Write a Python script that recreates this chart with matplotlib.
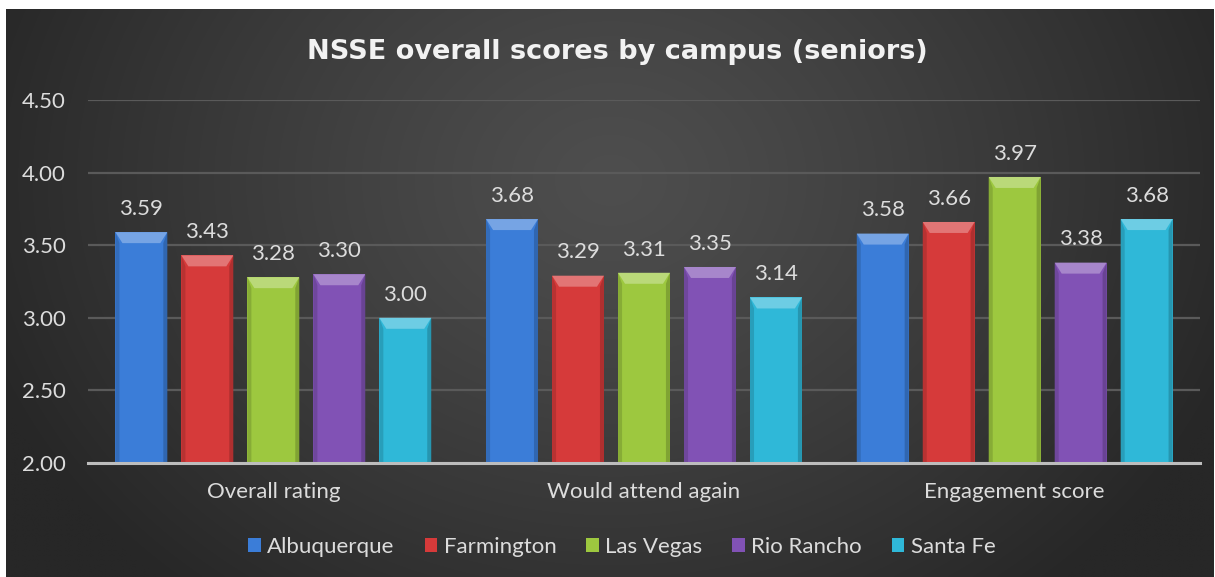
import numpy as np
import matplotlib
matplotlib.use("Agg")
import matplotlib.pyplot as plt
from matplotlib.patches import Polygon
import matplotlib.colors as mcolors

categories = ["Overall rating", "Would attend again", "Engagement score"]
campuses = ["Albuquerque", "Farmington", "Las Vegas", "Rio Rancho", "Santa Fe"]
albuquerque = [3.59, 3.68, 3.58]
farmington = [3.43, 3.29, 3.66]
las_vegas = [3.28, 3.31, 3.97]
rio_rancho = [3.30, 3.35, 3.38]
santa_fe = [3.00, 3.14, 3.68]
series = [albuquerque, farmington, las_vegas, rio_rancho, santa_fe]
colors = ["#3b7dd8", "#d63a3a", "#9dc83f", "#8152b5", "#2fb8d8"]
yticks = [2.00, 2.50, 3.00, 3.50, 4.00, 4.50]

W, H, DPI = 1215, 577, 100
fig = plt.figure(figsize=(W / DPI, H / DPI), dpi=DPI, facecolor="white")

# background panel with radial gradient
bg = fig.add_axes([6 / W, 0, (1214 - 6) / W, (577 - 9) / H])
bg.set_axis_off()
ny, nx = 300, 640
yy, xx = np.mgrid[0:ny, 0:nx]
cx, cy = nx * 0.5, ny * 0.3
r = np.sqrt(((xx - cx) / (nx * 0.55)) ** 2 + ((yy - cy) / (ny * 0.95)) ** 2)
r = np.clip(r, 0, 1)
val = (0x4e - (0x4e - 0x27) * r ** 1.2) / 255.0
img = np.dstack([val, val, val])
bg.imshow(img, aspect="auto", extent=[0, 1, 0, 1], interpolation="bilinear")
bg.set_xlim(0, 1)
bg.set_ylim(0, 1)

# main axes
x0, x1 = 88, 1200
ytop, ybot = 100, 463
ax = fig.add_axes([x0 / W, (H - ybot) / H, (x1 - x0) / W, (ybot - ytop) / H])
ax.set_facecolor("none")
ax.set_ylim(2.0, 4.5)
ax.set_xlim(-0.5, len(categories) - 0.5)

n = len(series)
pitch = 0.178
width = 0.14
x = np.arange(len(categories))

px_per_x = (x1 - x0) / 3.0
px_per_y = (ybot - ytop) / 2.5
txt = "#dcdcdc"

for i, (vals, c) in enumerate(zip(series, colors)):
    offs = (i - (n - 1) / 2) * pitch
    bars = ax.bar(x + offs, np.array(vals) - 2.0, width, bottom=2.0, color=c,
                  label=campuses[i], zorder=3, linewidth=0)
    base = np.array(mcolors.to_rgb(c))
    light = np.clip(base + (1 - base) * 0.3, 0, 1)
    dark = base * 0.86
    for b, v in zip(bars, vals):
        bx, bw = b.get_x(), b.get_width()
        top = b.get_y() + b.get_height()
        dx = 7 / px_per_x
        dy = 11 / px_per_y
        sx = 4 / px_per_x
        # side bevels
        ax.add_patch(Polygon([[bx, 2.0], [bx + sx, 2.0], [bx + sx, top - dy], [bx, top]],
                             closed=True, color=dark, lw=0, zorder=4))
        ax.add_patch(Polygon([[bx + bw, 2.0], [bx + bw - sx, 2.0], [bx + bw - sx, top - dy], [bx + bw, top]],
                             closed=True, color=dark * 0.95, lw=0, zorder=4))
        # top bevel
        ax.add_patch(Polygon([[bx, top], [bx + bw, top], [bx + bw - dx, top - dy], [bx + dx, top - dy]],
                             closed=True, color=light, lw=0, zorder=5))
        ax.annotate(f"{v:.2f}", (b.get_x() + bw / 2, top), xytext=(0, 9.5),
                    textcoords="offset points", ha="center", va="bottom",
                    fontsize=16, color=txt, family="Lato", zorder=6)

ax.set_yticks(yticks)
ax.set_yticklabels([f"{t:.2f}" for t in yticks], fontsize=16, color=txt, family="Lato")
ax.set_xticks(x)
ax.set_xticklabels(categories, fontsize=16, color=txt, family="Lato")
ax.tick_params(axis="y", length=0, pad=16)
ax.tick_params(axis="x", length=0, pad=14)
ax.grid(axis="y", color="#5a5a5a", linewidth=1.6, zorder=1)
ax.set_axisbelow(True)
for s in ["top", "right", "left"]:
    ax.spines[s].set_visible(False)
ax.spines["bottom"].set_color("#bdbdbd")
ax.spines["bottom"].set_linewidth(2.2)
ax.spines["bottom"].set_zorder(7)

fig.text(617 / W, 1 - 52 / H, "NSSE overall scores by campus (seniors)",
         ha="center", va="center", fontsize=19.5, fontweight="bold",
         color="#f2f2f2", family="DejaVu Sans")

leg = ax.legend(loc="center", bbox_to_anchor=(622 / W, 1 - 547 / H),
                bbox_transform=fig.transFigure, ncol=5, frameon=False,
                prop={"family": "Lato", "size": 16}, handlelength=0.55,
                handleheight=0.55, handletextpad=0.3, columnspacing=1.35)
for t in leg.get_texts():
    t.set_color(txt)

fig.savefig("out.png", dpi=DPI, facecolor="white")
